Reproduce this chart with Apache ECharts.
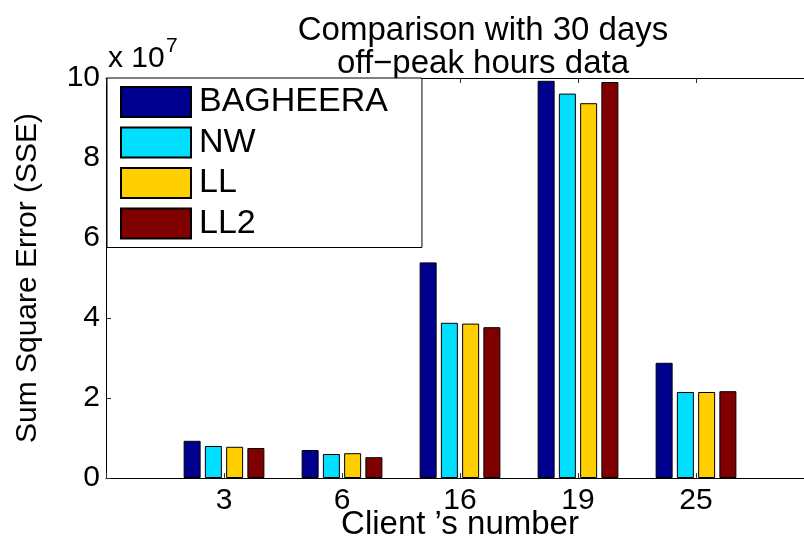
<!DOCTYPE html>
<html>
<head>
<meta charset="utf-8">
<script src="https://cdn.jsdelivr.net/npm/echarts@6/dist/echarts.min.js"></script>
<style>html,body{margin:0;padding:0;background:#fff;}#chart{width:804px;height:543px;}</style>
</head>
<body>
<div id="chart"></div>
<script>
// Client numbers (x categories)
const clients = ['3', '6', '16', '19', '25'];
// Sum Square Error values, in units of 10^7
const bagheera = [0.93, 0.70, 5.39, 9.93, 2.88];
const nw       = [0.80, 0.60, 3.88, 9.61, 2.15];
const ll       = [0.78, 0.62, 3.86, 9.37, 2.15];
const ll2      = [0.75, 0.52, 3.77, 9.90, 2.17];
const seriesNames = ['BAGHEERA', 'NW', 'LL', 'LL2'];
const yTicks = [0, 2, 4, 6, 8, 10];

const FONT = '"Liberation Sans", Arial, Helvetica, sans-serif';
const colors = ['#00008F', '#00DFFF', '#FFCF00', '#800000'];
const allValues = [bagheera, nw, ll, ll2];

const chart = echarts.init(document.getElementById('chart'), null, {renderer: 'canvas'});

const xAxisCommon = {
  type: 'value', min: 0, max: clients.length + 1, interval: 1,
  axisLine: {show: true, lineStyle: {color: '#000', width: 1}},
  axisTick: {show: true, inside: true, length: 5, lineStyle: {color: '#333'}},
  splitLine: {show: false}
};

chart.setOption({
  backgroundColor: '#fff',
  animation: false,
  title: {
    text: 'Comparison with 30 days\noff\u2212peak hours data',
    left: 478, top: 9, textAlign: 'center',
    textStyle: {fontFamily: FONT, fontSize: 33, fontWeight: 'normal', color: '#000', lineHeight: 33}
  },
  legend: {
    orient: 'vertical', left: 107, top: 78,
    data: seriesNames,
    itemWidth: 70, itemHeight: 30, itemGap: 6.5,
    padding: [7, 34, 7, 13],
    backgroundColor: '#fff', borderColor: '#000', borderWidth: 1, borderRadius: 0,
    icon: 'rect',
    textStyle: {fontFamily: FONT, fontSize: 34, color: '#000', padding: [0, 0, 0, 3]},
    z: 10
  },
  grid: {left: 106, top: 78, width: 708, height: 400, containLabel: false, outerBoundsMode: 'none'},
  xAxis: [
    Object.assign({}, xAxisCommon, {
      position: 'bottom',
      name: 'Client \u2019s number', nameLocation: 'middle', nameGap: 30, nameMoveOverlap: false,
      nameTextStyle: {fontFamily: FONT, fontSize: 33, color: '#000'},
      axisLabel: {
        margin: 8, fontFamily: FONT, fontSize: 30, color: '#000',
        formatter: v => (v >= 1 && v <= clients.length) ? clients[v - 1] : ''
      }
    }),
    Object.assign({}, xAxisCommon, {position: 'top', axisLabel: {show: false}})
  ],
  yAxis: {
    type: 'value', min: yTicks[0], max: yTicks[yTicks.length - 1], interval: 2,
    name: 'Sum Square Error (SSE)', nameLocation: 'middle', nameGap: 63, nameMoveOverlap: false,
    nameTextStyle: {fontFamily: FONT, fontSize: 30, color: '#000'},
    axisLine: {show: true, lineStyle: {color: '#000', width: 1}},
    axisTick: {show: true, inside: true, length: 5, lineStyle: {color: '#333'}},
    splitLine: {show: false},
    axisLabel: {margin: 6, fontFamily: FONT, fontSize: 30, color: '#000'}
  },
  graphic: [
    {type: 'text', left: 108, top: 44, style: {text: 'x 10', font: '30px ' + FONT, fill: '#000'}, z: 5},
    {type: 'text', left: 166, top: 36, style: {text: '7', font: '21px ' + FONT, fill: '#000'}, z: 5}
  ],
  series: seriesNames.map((name, k) => ({
    name: name,
    type: 'bar',
    xAxisIndex: 0,
    barWidth: 17,
    barGap: '25%',
    itemStyle: {color: colors[k], borderColor: '#000', borderWidth: 1},
    data: allValues[k].map((v, i) => [i + 1, v])
  }))
});
</script>
</body>
</html>
